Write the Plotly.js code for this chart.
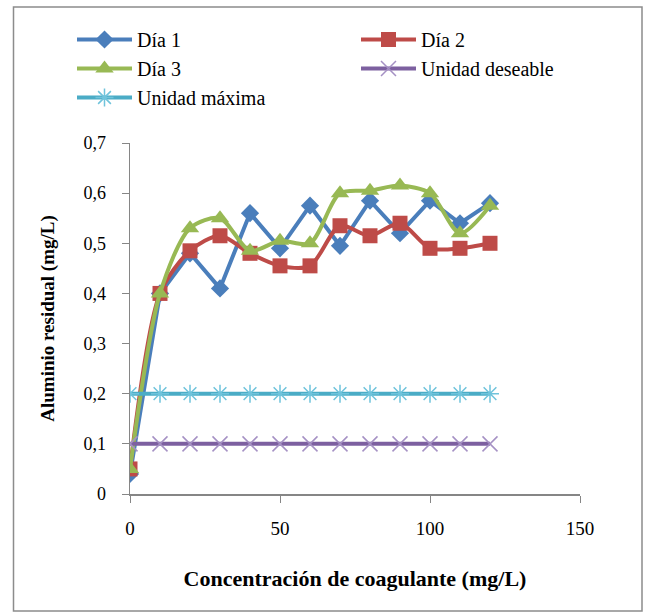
<!DOCTYPE html>
<html>
<head>
<meta charset="utf-8">
<script src="https://cdn.plot.ly/plotly-3.0.1.min.js"></script>
<style>html,body{margin:0;padding:0;background:#fff;}#chart{width:647px;height:613px;}</style>
</head>
<body>
<div id="chart"></div>
<script>
const concentracion = [0, 10, 20, 30, 40, 50, 60, 70, 80, 90, 100, 110, 120];
const dia1 = [0.04, 0.40, 0.48, 0.41, 0.56, 0.49, 0.575, 0.495, 0.585, 0.52, 0.585, 0.54, 0.58];
const dia2 = [0.05, 0.40, 0.485, 0.515, 0.48, 0.455, 0.455, 0.535, 0.515, 0.54, 0.49, 0.49, 0.50];
const dia3 = [0.05, 0.40, 0.53, 0.55, 0.485, 0.505, 0.50, 0.60, 0.605, 0.615, 0.60, 0.52, 0.575];
const unidadDeseable = [0.1, 0.1, 0.1, 0.1, 0.1, 0.1, 0.1, 0.1, 0.1, 0.1, 0.1, 0.1, 0.1];
const unidadMaxima = [0.2, 0.2, 0.2, 0.2, 0.2, 0.2, 0.2, 0.2, 0.2, 0.2, 0.2, 0.2, 0.2];
const seriesNames = ['Día 1', 'Día 2', 'Día 3', 'Unidad deseable', 'Unidad máxima'];

const serif = '"Liberation Serif", "Times New Roman", serif';
const traces = [
  {x: concentracion, y: dia1, name: seriesNames[0], mode: 'lines+markers', legend: 'legend', legendgroup: 'a', legendrank: 1,
   line: {color: '#4A7EBB', width: 4}, marker: {symbol: 'diamond', size: 14, color: '#4A7EBB'}},
  {x: concentracion, y: dia2, name: seriesNames[1], mode: 'lines+markers', legend: 'legend2', legendgroup: 'b', legendrank: 1,
   line: {color: '#BE4B48', width: 4, shape: 'spline', smoothing: 0.8}, marker: {symbol: 'square', size: 15, color: '#BE4B48'}},
  {x: concentracion, y: dia3, name: seriesNames[2], mode: 'lines+markers', legend: 'legend', legendgroup: 'c', legendrank: 2,
   line: {color: '#98B954', width: 4, shape: 'spline', smoothing: 0.8}, marker: {symbol: 'triangle-up', size: 16, color: '#98B954'}},
  {x: concentracion, y: unidadDeseable, name: seriesNames[3], mode: 'lines+markers', legend: 'legend2', legendgroup: 'd', legendrank: 2,
   line: {color: '#7D60A0', width: 4}, marker: {symbol: 'x-thin-open', size: 15, color: '#A591C4', line: {width: 1.5, color: '#A591C4'}}},
  {x: concentracion, y: unidadMaxima, name: seriesNames[4], mode: 'lines+markers', legend: 'legend', legendgroup: 'e', legendrank: 3,
   line: {color: '#4BACC6', width: 4}, marker: {symbol: 'asterisk-open', size: 15, color: '#6FC3DB', line: {width: 1.5, color: '#6FC3DB'}}}
];

const L = 130, R = 67, T = 143, B = 119, W = 647, H = 613;
const pw = W - L - R, ph = H - T - B;
const px = v => (v - L) / pw;
const py = v => (H - B - v) / ph;

const legendBase = {orientation: 'v', yanchor: 'top', xanchor: 'left', itemwidth: 55, tracegroupgap: 4,
  traceorder: 'normal', font: {family: serif, size: 20, color: '#000'}, bgcolor: 'rgba(0,0,0,0)'};

const layout = {
  width: W, height: H,
  margin: {l: L, r: R, t: T, b: B, pad: 0},
  paper_bgcolor: '#ffffff', plot_bgcolor: '#ffffff',
  separators: ',.',
  font: {family: serif, size: 16, color: '#000'},
  showlegend: true,
  legend: Object.assign({}, legendBase, {x: px(72), y: py(20)}),
  legend2: Object.assign({}, legendBase, {x: px(356), y: py(20)}),
  xaxis: {range: [0, 150], dtick: 50, tick0: 0, showgrid: false, zeroline: false,
    showline: true, linecolor: '#868686', linewidth: 1.5, ticks: 'outside', ticklen: 7, tickcolor: '#868686',
    tickfont: {family: serif, size: 19, color: '#000'}, ticklabelstandoff: 10,
    title: {text: '<b>Concentración de coagulante (mg/L)</b>', font: {family: serif, size: 22, color: '#000'}, standoff: 32}},
  yaxis: {range: [0, 0.7], dtick: 0.1, tick0: 0, showgrid: false, zeroline: false,
    showline: true, linecolor: '#868686', linewidth: 1.5, ticks: 'outside', ticklen: 7, tickcolor: '#868686',
    tickfont: {family: serif, size: 18, color: '#000'}, ticklabelstandoff: 12,
    title: {text: '<b>Aluminio residual (mg/L)</b>', font: {family: serif, size: 19, color: '#000'}, standoff: 24}},
  shapes: [{type: 'rect', xref: 'paper', yref: 'paper', x0: px(13.5), x1: px(642), y0: py(611), y1: py(7),
    line: {color: '#8c8c8c', width: 1.5}, fillcolor: 'rgba(0,0,0,0)', layer: 'below'}]
};

Plotly.newPlot('chart', traces, layout, {displayModeBar: false, staticPlot: true});
</script>
</body>
</html>
